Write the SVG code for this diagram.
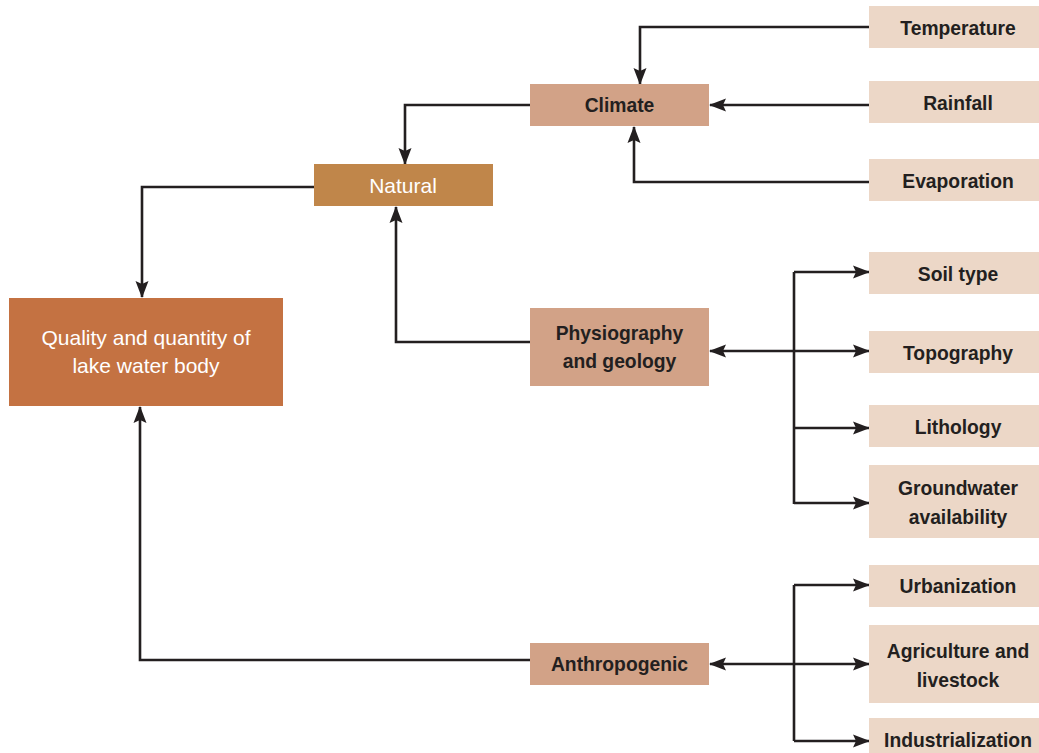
<svg xmlns="http://www.w3.org/2000/svg" width="1039" height="753" viewBox="0 0 1039 753">
<defs>
<marker id="ah" markerUnits="userSpaceOnUse" markerWidth="18" markerHeight="14" refX="16" refY="6.5" orient="auto" viewBox="0 0 18 13">
<path d="M0,0 L17,6.5 L0,13 L3,6.5 z" fill="#231f20"/>
</marker>
<style>
.c{fill:none;stroke:#231f20;stroke-width:2.6}
.a{marker-end:url(#ah)}
text{font-family:"Liberation Sans",Arial,sans-serif;font-weight:bold;font-size:19.3px;text-anchor:middle;fill:#231f20}
.w{fill:#ffffff;font-weight:normal;font-size:21px}
.leaf{fill:#ecd7c7}
.mid{fill:#d2a287}
</style>
</defs>
<rect width="1039" height="753" fill="#ffffff"/>
<g id="connectors">
<path class="c a" d="M869,27 H640 V84"/>
<path class="c a" d="M869,105 H710"/>
<path class="c a" d="M869,182 H634 V127"/>
<path class="c a" d="M530,105 H405 V164"/>
<path class="c a" d="M314,187 H142 V297"/>
<path class="c a" d="M530,342 H396 V207"/>
<path class="c a" d="M794,351 H710"/>
<path class="c" d="M794,272 V504"/>
<path class="c a" d="M794,272 H869"/>
<path class="c a" d="M794,351 H869"/>
<path class="c a" d="M794,428 H869"/>
<path class="c a" d="M794,503 H869"/>
<path class="c a" d="M530,660 H140 V407"/>
<path class="c a" d="M794,664 H710"/>
<path class="c" d="M794,585 V741"/>
<path class="c a" d="M794,585 H869"/>
<path class="c a" d="M794,664 H869"/>
<path class="c a" d="M794,741 H869"/>
</g>
<g id="lake"><rect x="9" y="298" width="274" height="108" fill="#c47242"/><text class="w" x="146" y="345">Quality and quantity of</text><text class="w" x="146" y="373">lake water body</text></g>
<g id="natural"><rect x="314" y="164" width="179" height="42" fill="#c0864a"/><text class="w" x="403" y="193">Natural</text></g>
<g id="climate"><rect class="mid" x="530" y="84" width="179" height="42"/><text x="619.5" y="112">Climate</text></g>
<g id="physiography"><rect class="mid" x="530" y="308" width="179" height="78"/><text x="619.5" y="340">Physiography</text><text x="619.5" y="368">and geology</text></g>
<g id="anthropogenic"><rect class="mid" x="530" y="643" width="179" height="42"/><text x="619.5" y="671">Anthropogenic</text></g>
<g id="temperature"><rect class="leaf" x="869" y="6" width="172" height="42"/><text x="958" y="34.5">Temperature</text></g>
<g id="rainfall"><rect class="leaf" x="869" y="81" width="172" height="42"/><text x="958" y="109.5">Rainfall</text></g>
<g id="evaporation"><rect class="leaf" x="869" y="159" width="172" height="42"/><text x="958" y="187.5">Evaporation</text></g>
<g id="soil"><rect class="leaf" x="869" y="252" width="172" height="42"/><text x="958" y="280.5">Soil type</text></g>
<g id="topography"><rect class="leaf" x="869" y="331" width="172" height="42"/><text x="958" y="359.5">Topography</text></g>
<g id="lithology"><rect class="leaf" x="869" y="405" width="172" height="42"/><text x="958" y="433.5">Lithology</text></g>
<g id="groundwater"><rect class="leaf" x="869" y="465" width="172" height="73"/><text x="958" y="495">Groundwater</text><text x="958" y="524">availability</text></g>
<g id="urbanization"><rect class="leaf" x="869" y="565" width="172" height="42"/><text x="958" y="593">Urbanization</text></g>
<g id="agriculture"><rect class="leaf" x="869" y="625" width="172" height="78"/><text x="958" y="658">Agriculture and</text><text x="958" y="687">livestock</text></g>
<g id="industrialization"><rect class="leaf" x="869" y="718" width="172" height="40"/><text x="958" y="746.5">Industrialization</text></g>
</svg>
